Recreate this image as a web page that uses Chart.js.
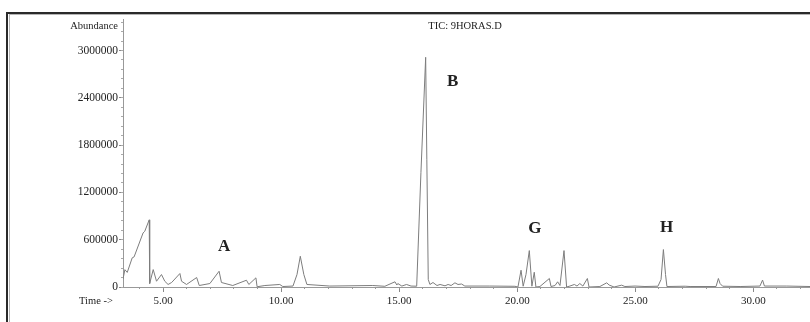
<!DOCTYPE html>
<html>
<head>
<meta charset="utf-8">
<script src="https://cdn.jsdelivr.net/npm/chart.js@4/dist/chart.umd.min.js"></script>
<style>
  html, body { margin: 0; padding: 0; background: #fff; }
  #wrap { width: 810px; height: 322px; }
</style>
</head>
<body>
<div id="wrap"><canvas id="tic"></canvas></div>
<script>
// chromatogram: time (min) and abundance
var times = [3.30, 3.38, 3.48, 3.69, 3.77, 4.15, 4.22, 4.41, 4.42, 4.44, 4.58, 4.72, 4.93, 5.07, 5.21, 5.36,
  5.71, 5.78, 5.99, 6.42, 6.53, 6.98, 7.37, 7.47, 7.95, 8.53, 8.63, 8.93, 8.98, 9.31, 9.94, 10.07,
  10.50, 10.67, 10.81, 10.96, 11.09, 12.06, 13.88, 14.39, 14.82, 14.90, 14.94, 15.11, 15.31, 15.50,
  15.74, 15.92, 16.12, 16.17, 16.23, 16.30, 16.43, 16.60, 16.73, 16.94, 17.07, 17.20, 17.36, 17.49,
  17.64, 17.78, 18.84, 19.90, 20.03, 20.16, 20.25, 20.37, 20.51, 20.62, 20.72, 20.79, 20.96, 21.36,
  21.43, 21.60, 21.71, 21.81, 21.98, 22.09, 22.23, 22.42, 22.53, 22.65, 22.78, 22.97, 23.04, 23.50,
  23.79, 23.89, 24.10, 24.42, 24.56, 24.99, 25.41, 25.96, 26.09, 26.19, 26.28, 26.34, 27.11, 27.32,
  28.42, 28.52, 28.59, 28.70, 29.44, 30.28, 30.39, 30.47, 31.42, 32.40]
var abundance = [100000, 220000, 185000, 370000, 382000, 686000, 706000, 852000, 50000, 44000, 221000, 73000, 158000, 73000, 32000, 57000,
  171000, 73000, 32000, 120000, 19000, 44000, 200000, 57000, 19000, 86000, 32000, 116000, 3000, 19000, 32000, 6000,
  12000, 158000, 390000, 158000, 32000, 12000, 19000, 9000, 66000, 25000, 44000, 12000, 32000, 12000,
  10000, 1450000, 2914000, 1614000, 95000, 32000, 57000, 19000, 32000, 15000, 32000, 19000, 53000, 32000,
  38000, 12000, 12000, 9000, 0, 213000, 10000, 158000, 462000, 10000, 187000, 0, 6000, 108000,
  6000, 19000, 66000, 19000, 462000, 0, 12000, 32000, 12000, 44000, 12000, 108000, 0, 6000,
  53000, 25000, 0, 23000, 6000, 12000, 6000, 10000, 95000, 475000, 158000, 6000, 10000, 6000,
  6000, 108000, 44000, 10000, 6000, 12000, 88000, 12000, 12000, 6000]

// axis ticks
var xTicks = [5, 10, 15, 20, 25, 30]
var yTicks = [0, 600000, 1200000, 1800000, 2400000, 3000000]
var xMinorStep = 1
var yMinorStep = 120000

// peak letters and where they sit
var peakNames = ["A", "B", "G", "H"]
var peakTime = [7.58, 17.26, 20.75, 26.33]
var peakAbund = [513000, 2605000, 740000, 749000]

var xMin = 3.3, xMax = 32.4
var yMax = 3400000

var points = []
for (var i = 0; i < times.length; i++) {
  points.push({x: times[i], y: abundance[i]})
}

function fixedTicks(list) {
  return function(s) { s.ticks = list.map(function(v) { return {value: v} }) }
}
function minorTicks(step) {
  return function(s) {
    var t = []
    for (var v = Math.ceil(s.min / step) * step; v <= s.max; v += step) t.push({value: v})
    s.ticks = t
  }
}

var serif = "'Liberation Serif', 'DejaVu Serif', serif"

// frame and loose texts
var extras = {
  id: "extras",
  beforeDraw: function(chart) {
    var c = chart.ctx
    c.save()
    c.fillStyle = "#2a2a2a"
    c.fillRect(8, 12, 802, 2)
    c.fillRect(6, 12, 2, 310)
    c.fillStyle = "#b5b5b5"
    c.fillRect(10, 14, 800, 1)
    c.fillRect(9, 14, 1, 308)
    c.restore()
  },
  afterDraw: function(chart) {
    var c = chart.ctx
    var xs = chart.scales.x, ys = chart.scales.y
    c.save()
    c.fillStyle = "#222"
    c.textBaseline = "middle"
    c.font = "10.5px " + serif
    c.textAlign = "right"
    c.fillText("Abundance", 118, 26)
    c.textAlign = "center"
    c.fillText("TIC: 9HORAS.D", 465, 26)
    c.textAlign = "left"
    c.fillText("Time ->", 79, 301)
    c.font = "bold 17px " + serif
    c.textAlign = "center"
    for (var k = 0; k < peakNames.length; k++) {
      c.fillText(peakNames[k], xs.getPixelForValue(peakTime[k]), ys.getPixelForValue(peakAbund[k]))
    }
    c.restore()
  }
}

new Chart(document.getElementById("tic"), {
  type: "scatter",
  data: {
    datasets: [{
      data: points,
      showLine: true,
      borderColor: "#7d7d7d",
      borderWidth: 1,
      pointRadius: 0,
      tension: 0
    }]
  },
  options: {
    responsive: true,
    maintainAspectRatio: false,
    animation: false,
    layout: { padding: { top: 19, left: 0, right: 0, bottom: 0 } },
    plugins: { legend: { display: false }, tooltip: { enabled: false } },
    scales: {
      x: {
        type: "linear", position: "bottom", min: xMin, max: xMax,
        grid: { drawOnChartArea: false, tickLength: 5, color: "#888" },
        border: { color: "#999", width: 1 },
        afterBuildTicks: fixedTicks(xTicks),
        ticks: {
          padding: 3, color: "#222", maxRotation: 0, autoSkip: false,
          font: { family: serif, size: 11 },
          callback: function(v) { return v.toFixed(2) }
        },
        afterFit: function(s) { s.height = 35 }
      },
      xMinor: {
        type: "linear", position: { y: 0 }, min: xMin, max: xMax,
        grid: { drawOnChartArea: false, tickLength: 2, color: "#999" },
        border: { display: false },
        afterBuildTicks: minorTicks(xMinorStep),
        ticks: { display: false, autoSkip: false },
        afterFit: function(s) { s.height = 0 }
      },
      y: {
        type: "linear", position: "left", min: 0, max: yMax,
        grid: { drawOnChartArea: false, tickLength: 4, color: "#888" },
        border: { color: "#999", width: 1 },
        afterBuildTicks: fixedTicks(yTicks),
        ticks: {
          padding: 1, color: "#222", autoSkip: false,
          font: { family: serif, size: 11.5 },
          callback: function(v) { return String(v) }
        },
        afterFit: function(s) { s.width = 123 }
      },
      yMinor: {
        type: "linear", position: { x: xMin }, min: 0, max: yMax,
        grid: { drawOnChartArea: false, tickLength: 2, color: "#aaa" },
        border: { display: false },
        afterBuildTicks: minorTicks(yMinorStep),
        ticks: { display: false, autoSkip: false },
        afterFit: function(s) { s.width = 0 }
      }
    }
  },
  plugins: [extras]
})
</script>
</body>
</html>
